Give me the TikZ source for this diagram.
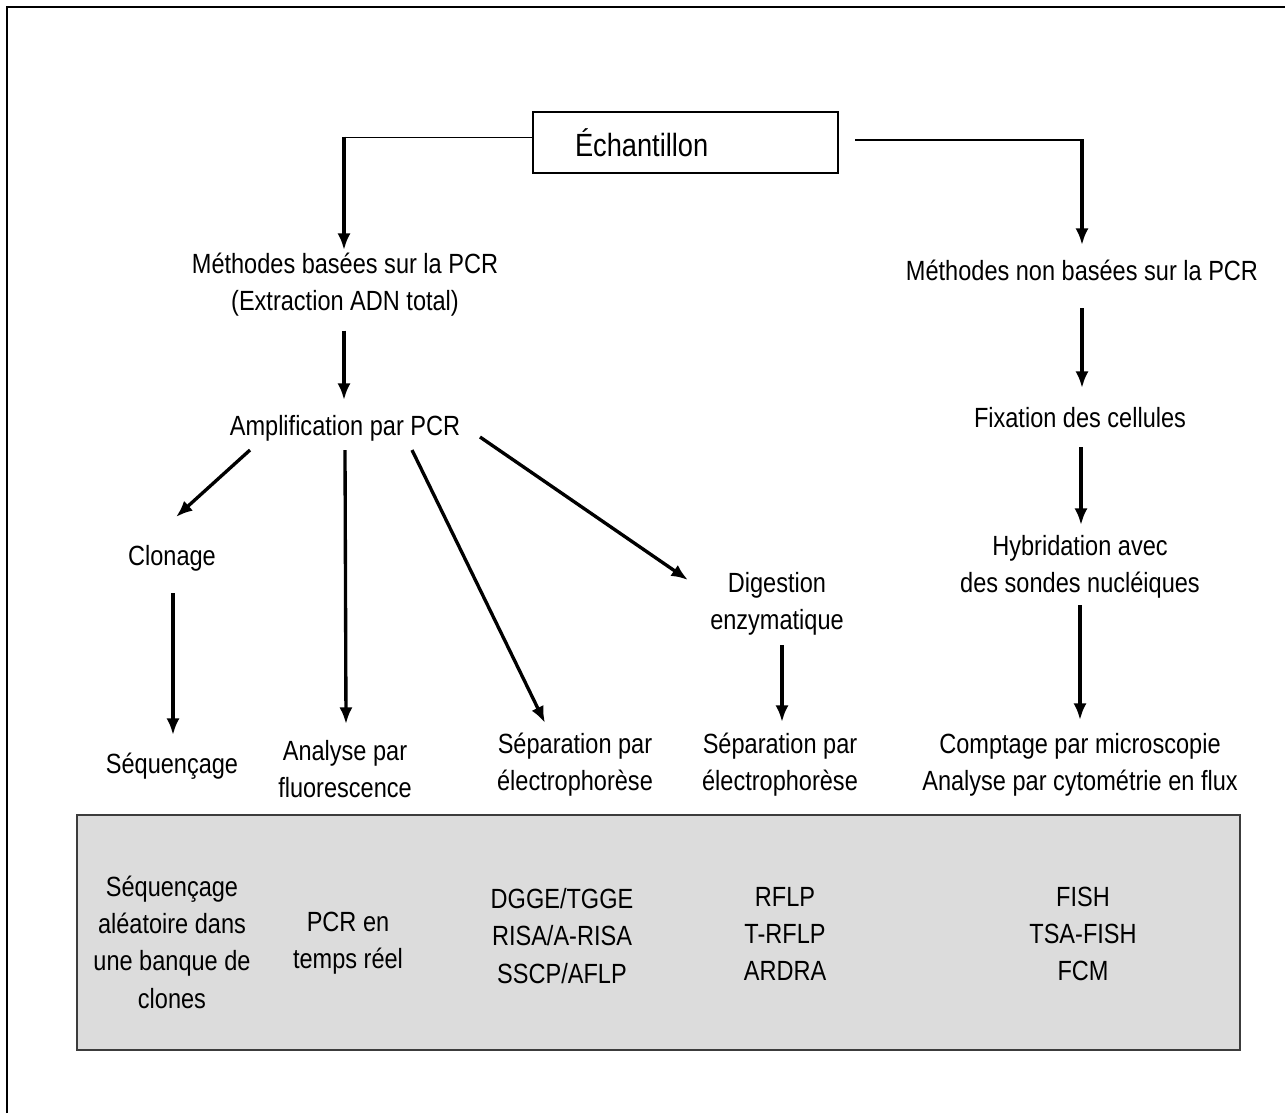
\documentclass[tikz,border=0pt]{standalone}
\usepackage{fontspec}
\setmainfont{Liberation Sans}
\usetikzlibrary{arrows.meta, calc, positioning}
\definecolor{panelgray}{HTML}{DCDCDC}
\definecolor{paneledge}{HTML}{3C3C3C}
\newcommand*\lblfont{\fontsize{13.4}{18}\selectfont}
\tikzset{
    arr/.style={-{Latex[length=9.5pt,width=7.5pt]}, line width=1.9pt},
    feed/.style={line width=0.9pt},
    lbl/.style={align=center, font=\lblfont, inner sep=0pt, yscale=1.18},
    frame/.style={line width=1.6pt},
    panel/.style={fill=panelgray, draw=paneledge, line width=1.3pt},
    samplebox/.style={draw, line width=1.5pt, minimum width=6.1cm, minimum height=1.22cm,
        inner xsep=0.84cm, text width=4.42cm, align=left, font=\fontsize{15.5}{18}\selectfont}
}

\begin{document}
\begin{tikzpicture}[x=0.02cm, y=-0.02cm]
    \useasboundingbox (0,0) rectangle (1285,1113);
    \draw[frame] (7,1113) -- (7,7) -- (1285,7);
    \draw[panel] (77,815) rectangle (1240,1050);
    \node[samplebox] (ech) at (685.5,142.5) {\scalebox{1}[1.18]{Échantillon}};
    % left branch
    \node[lbl] (pcr) at (345,284.5) {Méthodes basées sur la PCR\\(Extraction ADN total)};
    \node[lbl] (ampli) at (345,428) {Amplification par PCR};
    \node[lbl] (clon) at (172,558) {Clonage};
    \node[lbl] (seq) at (172,766) {Séquençage};
    \node[lbl] (fluo) at (345,769) {Analyse par\\fluorescence};
    \node[lbl] (sep1) at (575,764.5) {Séparation par\\électrophorèse};
    \node[lbl] (dig) at (777,603.5) {Digestion\\enzymatique};
    \node[lbl] (sep2) at (780,764.5) {Séparation par\\électrophorèse};
    % right branch
    \node[lbl] (nonpcr) at (1082,270) {Méthodes non basées sur la PCR};
    \node[lbl] (fix) at (1080,418) {Fixation des cellules};
    \node[lbl] (hyb) at (1080,566.5) {Hybridation avec\\des sondes nucléiques};
    \node[lbl] (compt) at (1080,765) {Comptage par microscopie\\Analyse par cytométrie en flux};
    % techniques
    \node[lbl] (t1) at (172,942) {Séquençage\\aléatoire dans\\une banque de\\clones};
    \node[lbl] (t2) at (348,943) {PCR en\\temps réel};
    \node[lbl] (t3) at (562,936) {DGGE/TGGE\\RISA/A-RISA\\SSCP/AFLP};
    \node[lbl] (t4) at (785,934) {RFLP\\T-RFLP\\ARDRA};
    \node[lbl] (t5) at (1083,934) {FISH\\TSA-FISH\\FCM};

    \coordinate (el) at ($(ech.west)+(0,-5)$);
    \coordinate (er) at ($(ech.east)+(16,-2.5)$);
    \coordinate (kl) at ($(el -| pcr)+(-1,0)$);
    \coordinate (kr) at (er -| nonpcr);
    \draw[feed] (el) -- (kl);
    \draw[feed] (er) -- (kr);
    \draw[arr] ($(kl)+(0,-0.8)$) -- ($(pcr)+(-1,-34.5)$);
    \draw[arr] ($(kr)+(0,-0.8)$) -- ($(nonpcr)+(0,-25)$);
    \draw[arr] ($(pcr)+(-1,46)$) -- ($(ampli)+(-1,-28)$);
    \draw[arr] ($(ampli)+(-95,22)$) -- ($(clon)+(4,-41)$);
    \draw[arr] ($(clon)+(1,35)$) -- ($(seq)+(1,-31)$);
    \draw[arr] ($(ampli)+(0,22)$) -- ($(fluo)+(1,-45)$);
    \draw[arr] ($(ampli)+(67,22)$) -- ($(sep1)+(-30,-41.5)$);
    \draw[arr] ($(ampli)+(135,9)$) -- ($(dig)+(-89,-23.5)$);
    \draw[arr] ($(dig)+(5,41.5)$) -- ($(sep2)+(2,-42.5)$);
    \draw[arr] ($(nonpcr)+(0,38)$) -- ($(fix)+(2,-30)$);
    \draw[arr] ($(fix)+(1,29)$) -- ($(hyb)+(1,-41.5)$);
    \draw[arr] ($(hyb)+(0,38.5)$) -- ($(compt)+(0,-45)$);
\end{tikzpicture}
\end{document}
